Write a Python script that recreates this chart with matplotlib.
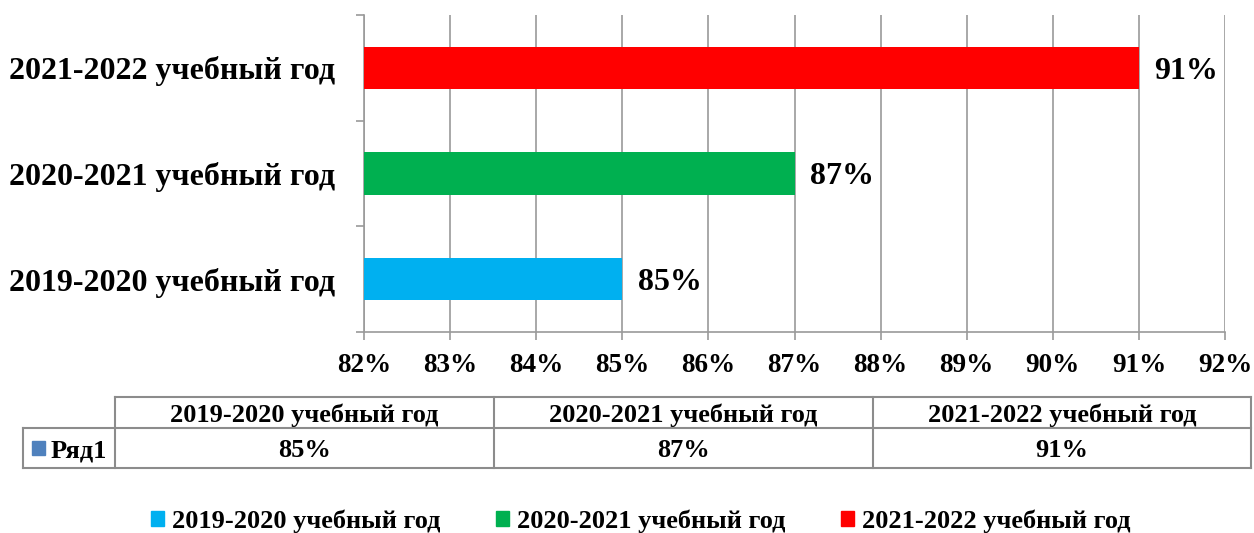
import matplotlib.pyplot as plt
from matplotlib.patches import Patch, Rectangle
from matplotlib.lines import Line2D

plt.rcParams['font.family'] = ['Liberation Serif', 'DejaVu Serif']
plt.rcParams['font.weight'] = 'bold'

# data
categories = ['2019-2020 учебный год', '2020-2021 учебный год', '2021-2022 учебный год']
values = [85, 87, 91]
colors = ['#00B0F0', '#00B050', '#FF0000']
series_name = 'Ряд1'
x_ticks = list(range(82, 93))

W, H = 1254, 533
fig = plt.figure(figsize=(W / 100, H / 100), dpi=100)

def fx(px):
    return px / W

def fy(py):
    return 1 - py / H

grid_col = '#9a9a9a'

# main bar chart
ax = fig.add_axes([fx(364), fy(332), fx(1225 - 364), (332 - 15) / H])
ypos = list(range(len(categories)))
ax.barh(ypos, [v - 82 for v in values], left=82, height=0.4, color=colors, zorder=3)
for y, v in zip(ypos, values):
    ax.text(v + 0.18, y, f'{v}%', va='center_baseline', ha='left', fontsize=23,
            fontweight='bold')

ax.set_xlim(82, 92)
ax.set_ylim(-0.5, 2.5)
ax.set_xticks(x_ticks)
ax.set_xticklabels([f'{t}%' for t in x_ticks], fontsize=19.5, fontweight='bold')
ax.set_yticks(ypos)
ax.set_yticklabels(categories, fontsize=23, fontweight='bold')
ax.set_yticks([-0.5, 0.5, 1.5, 2.5], minor=True)
ax.tick_params(axis='y', which='major', length=0, pad=21)
ax.tick_params(axis='y', which='minor', length=6, color=grid_col, width=1.2)
ax.tick_params(axis='x', length=6, color=grid_col, width=1.2, pad=9)
ax.grid(axis='x', color=grid_col, linewidth=1.2, zorder=0)
for s in ['top', 'right']:
    ax.spines[s].set_visible(False)
for s in ['left', 'bottom']:
    ax.spines[s].set_color(grid_col)
    ax.spines[s].set_linewidth(1.2)

# data table below
tab_col = '#8c8c8c'
x_edges = [23, 115, 494, 873, 1251]
y_top, y_mid, y_bot = 397, 428, 468

def hline(x0, x1, y):
    fig.add_artist(Line2D([fx(x0), fx(x1)], [fy(y), fy(y)], color=tab_col, lw=1.5))

def vline(x, y0, y1):
    fig.add_artist(Line2D([fx(x), fx(x)], [fy(y0), fy(y1)], color=tab_col, lw=1.5))

hline(x_edges[1], x_edges[-1], y_top)
hline(x_edges[0], x_edges[-1], y_mid)
hline(x_edges[0], x_edges[-1], y_bot)
vline(x_edges[0], y_mid, y_bot)
for x in x_edges[1:]:
    vline(x, y_top, y_bot)

for i, (cat, v) in enumerate(zip(categories, values)):
    xc = (x_edges[i + 1] + x_edges[i + 2]) / 2
    fig.text(fx(xc), fy((y_top + y_mid) / 2), cat, ha='center', va='center_baseline',
             fontsize=19, fontweight='bold')
    fig.text(fx(xc), fy((y_mid + y_bot) / 2), f'{v}%', ha='center', va='center_baseline',
             fontsize=19, fontweight='bold')

fig.add_artist(Rectangle((fx(32), fy(455)), fx(13), 14 / H, color='#4F81BD'))
fig.text(fx(51), fy((y_mid + y_bot) / 2), series_name, ha='left', va='center_baseline',
         fontsize=19, fontweight='bold')

# legend
handles = [Patch(color=c, label=cat) for c, cat in zip(colors, categories)]
fig.legend(handles=handles, loc='center', bbox_to_anchor=(fx(641), fy(521)), ncol=3,
           frameon=False, handlelength=0.5, handleheight=0.5,
           handletextpad=0.3, columnspacing=2.1, prop={'weight': 'bold', 'size': 19})

fig.savefig('out.png', dpi=100)
